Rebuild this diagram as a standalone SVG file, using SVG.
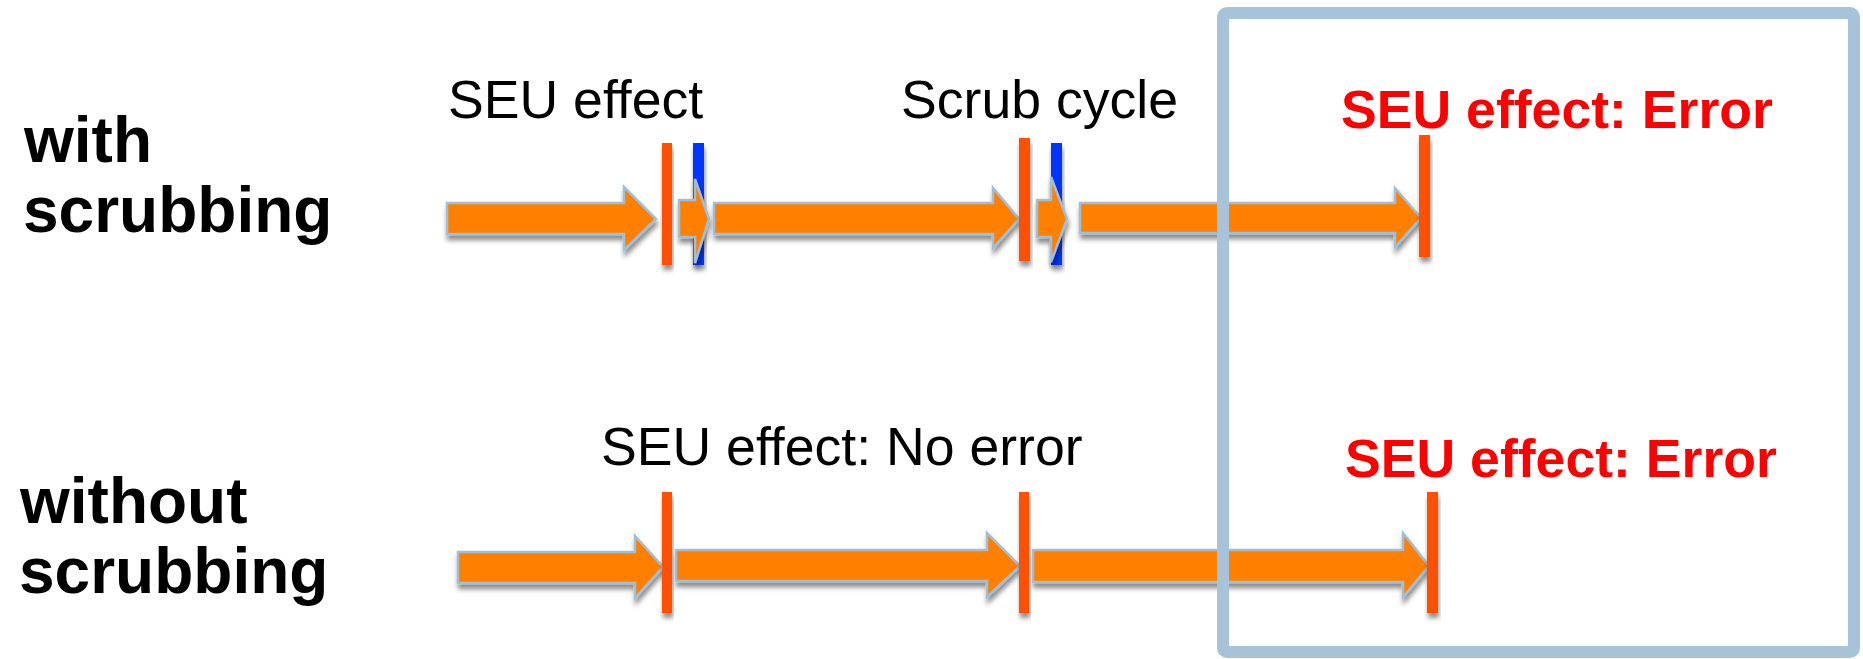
<svg xmlns="http://www.w3.org/2000/svg" width="1863" height="659" viewBox="0 0 1863 659">
  <defs>
    <filter id="shadow" x="-20%" y="-20%" width="140%" height="160%">
      <feDropShadow dx="1" dy="5" stdDeviation="2.5" flood-color="#000" flood-opacity="0.45"/>
    </filter>
    <style>
      .arrow { fill: #FF7F00; stroke: #9FBED8; stroke-width: 2.5; stroke-linejoin: miter; filter: url(#shadow); }
      .seu { fill: #FF5000; filter: url(#shadow); }
      .scrub { fill: #0636FF; filter: url(#shadow); }
      .row-label { font-family: "Liberation Sans", Arial, sans-serif; font-weight: bold; font-size: 64px; fill: #000; }
      .note { font-family: "Liberation Sans", Arial, sans-serif; font-size: 53.6px; fill: #000; }
      .error { font-family: "Liberation Sans", Arial, sans-serif; font-weight: bold; font-size: 53.6px; fill: #FF0000; }
      .frame { fill: none; stroke: #A6C3DA; stroke-width: 12; }
    </style>
  </defs>
  <rect width="1863" height="659" fill="#fff"/>

  <!-- row titles -->
  <g id="label-with">
    <text class="row-label" x="24" y="162">with</text>
    <text class="row-label" x="23" y="232">scrubbing</text>
  </g>
  <g id="label-without">
    <text class="row-label" x="20" y="523">without</text>
    <text class="row-label" x="19" y="593">scrubbing</text>
  </g>

  <!-- event captions -->
  <g id="caption-seu">
    <text class="note" x="448" y="118">SEU effect</text>
  </g>
  <g id="caption-scrub">
    <text class="note" x="901" y="118">Scrub cycle</text>
  </g>
  <g id="caption-no-error">
    <text class="note" x="601" y="465">SEU effect: No error</text>
  </g>
  <g id="caption-error-top">
    <text class="error" x="1341" y="128">SEU effect: Error</text>
  </g>
  <g id="caption-error-bottom">
    <text class="error" x="1345" y="477">SEU effect: Error</text>
  </g>

  <!-- event markers: scrub cycles (blue) -->
  <g id="scrub-1"><rect class="scrub" x="693" y="143" width="11" height="122"/></g>
  <g id="scrub-2"><rect class="scrub" x="1051" y="143" width="11" height="122"/></g>

  <!-- timeline arrows -->
  <g id="connectors">
    <!-- with scrubbing -->
    <polygon class="arrow" points="447,203 624,203 624,187 656,219 624,250 624,234 447,234"/>
    <polygon class="arrow" points="679,200 695,200 695,179 709,219 695,263 695,237 679,237"/>
    <polygon class="arrow" points="714,203 993,203 993,188 1019,219 993,248 993,234 714,234"/>
    <polygon class="arrow" points="1037,200 1051,200 1051,177 1067,219 1051,262 1051,237 1037,237"/>
    <polygon class="arrow" points="1080,203 1395,203 1395,188 1421,218 1395,247 1395,233 1080,233"/>
    <!-- without scrubbing -->
    <polygon class="arrow" points="458,552 635,552 635,536 663,567 635,598 635,583 458,583"/>
    <polygon class="arrow" points="676,550 987,550 987,533 1020,566 987,597 987,581 676,581"/>
    <polygon class="arrow" points="1033,550 1403,550 1403,533 1429,566 1403,597 1403,582 1033,582"/>
  </g>

  <!-- event markers: SEU hits (red) -->
  <g id="seu-1"><rect class="seu" x="662" y="143" width="10" height="122"/></g>
  <g id="seu-2"><rect class="seu" x="1019" y="138" width="11" height="123"/></g>
  <g id="seu-3"><rect class="seu" x="1419" y="135" width="11" height="122"/></g>
  <g id="seu-4"><rect class="seu" x="662" y="492" width="10" height="121"/></g>
  <g id="seu-5"><rect class="seu" x="1019" y="492" width="10" height="121"/></g>
  <g id="seu-6"><rect class="seu" x="1427" y="492" width="11" height="121"/></g>

  <!-- highlighted window -->
  <g id="window">
    <rect class="frame" x="1223" y="13" width="631" height="639" rx="4"/>
  </g>
</svg>
